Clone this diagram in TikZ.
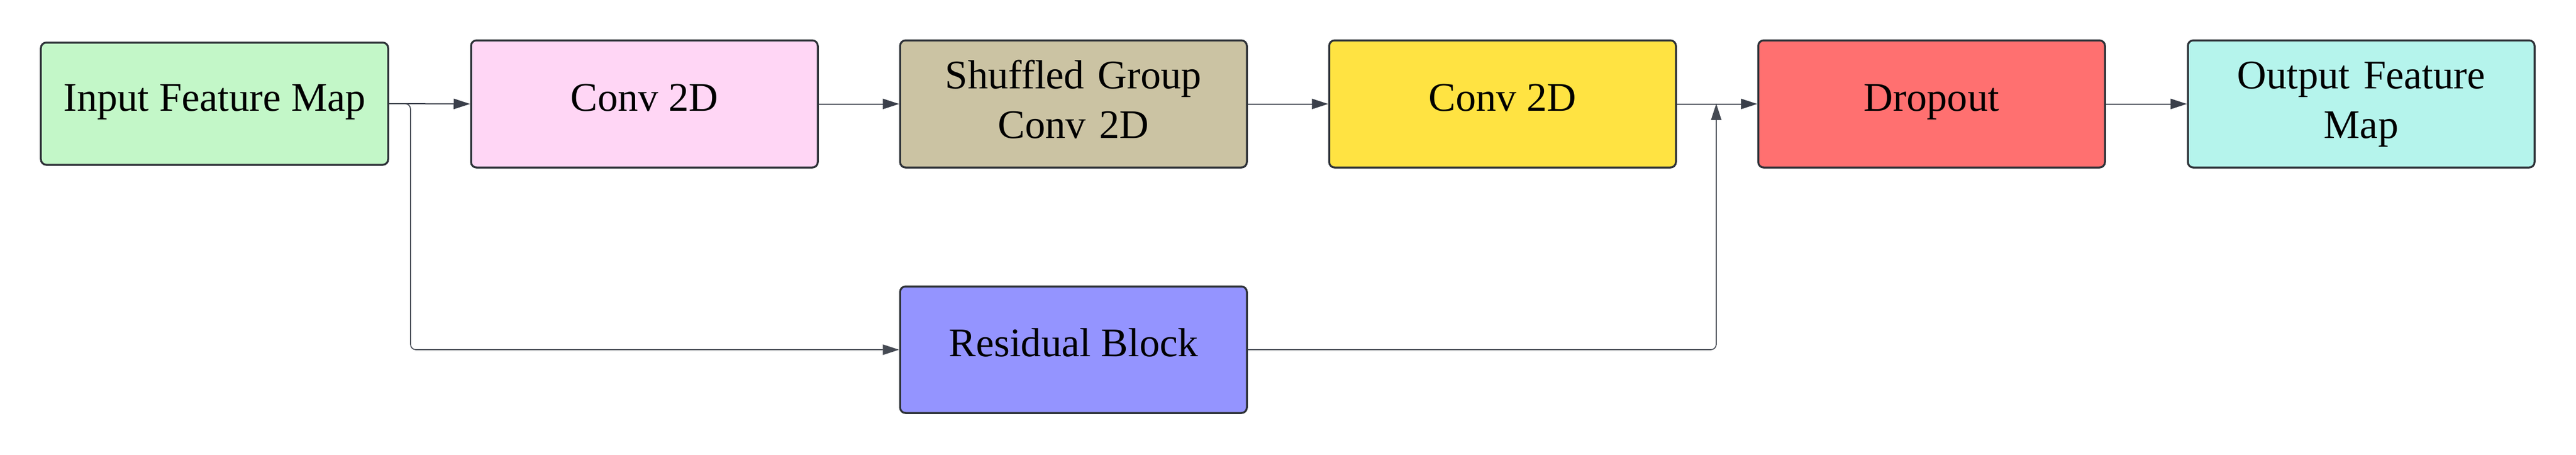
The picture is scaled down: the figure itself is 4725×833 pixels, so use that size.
\documentclass[tikz,border=0pt]{standalone}
\usepackage{fontspec}
\setmainfont{Liberation Serif}
\usetikzlibrary{arrows.meta}
\definecolor{bordc}{HTML}{2E3238}
\definecolor{arrc}{HTML}{3A3F4A}
\definecolor{thinc}{HTML}{454A53}
\definecolor{cin}{HTML}{C3F7C8}
\definecolor{cconv}{HTML}{FFD6F5}
\definecolor{csg}{HTML}{CBC3A3}
\definecolor{cyel}{HTML}{FFE342}
\definecolor{cred}{HTML}{FF7070}
\definecolor{ccyan}{HTML}{B5F4EC}
\definecolor{cblue}{HTML}{9494FF}
\begin{document}
\begin{tikzpicture}[x=0.2pt,y=-0.2pt,
  box/.style={draw=bordc, line width=0.7pt, rounded corners=2pt, inner sep=0pt, minimum width=127.2pt, minimum height=46.6pt},
  lbl/.style={font=\fontsize{14.9}{18.2}\selectfont, inner sep=0pt, anchor=base},
  lbltwo/.style={lbl, text width=130pt, align=center},
  conn/.style={draw=arrc, line width=0.4pt, -{Triangle[length=6pt,width=3.8pt]}},
  thin/.style={draw=thinc, line width=0.35pt, rounded corners=2pt, -{Triangle[length=6pt,width=3.8pt]}}]
\useasboundingbox (0,0) rectangle (4725,833);
% boxes
\node[box, fill=cin, minimum width=127.4pt, minimum height=44.8pt] (in) at (393.5,190) {};
\node[box, fill=cconv] (c1) at (1182,190.5) {};
\node[box, fill=csg] (sg) at (1969,190.5) {};
\node[box, fill=cyel] (c2) at (2756,190.5) {};
\node[box, fill=cred] (dr) at (3543,190.5) {};
\node[box, fill=ccyan] (out) at (4331,190.5) {};
\node[box, fill=cblue, minimum height=46.4pt] (res) at (1969,641) {};
% labels
\node[lbl] (tin) at (393.5,203) {Input Feature Map};
\node[lbl] (tc1) at (1182,203) {Conv 2D};
\node[lbltwo] (tsg) at (1969,162) {Shuffled Group\\Conv 2D};
\node[lbl] (tc2) at (2756,203) {Conv 2D};
\node[lbl] (tdr) at (3543,203) {Dropout};
\node[lbltwo] (tout) at (4331,162) {Output Feature\\Map};
\node[lbl] (tres) at (1969,653.5) {Residual Block};
% connectors
\coordinate (br) at (753,190);
\coordinate (mg) at (3148,190);
\draw[conn] (in.east) -- (c1.west);
\draw[conn] (c1.east) -- (sg.west);
\draw[conn] (sg.east) -- (c2.west);
\draw[conn] (c2.east) -- (dr.west);
\draw[conn] (dr.east) -- (out.west);
\draw[thin] (in.east) -- (br) |- (res.west);
\draw[thin] (res.east) -| (mg);
\end{tikzpicture}
\end{document}
